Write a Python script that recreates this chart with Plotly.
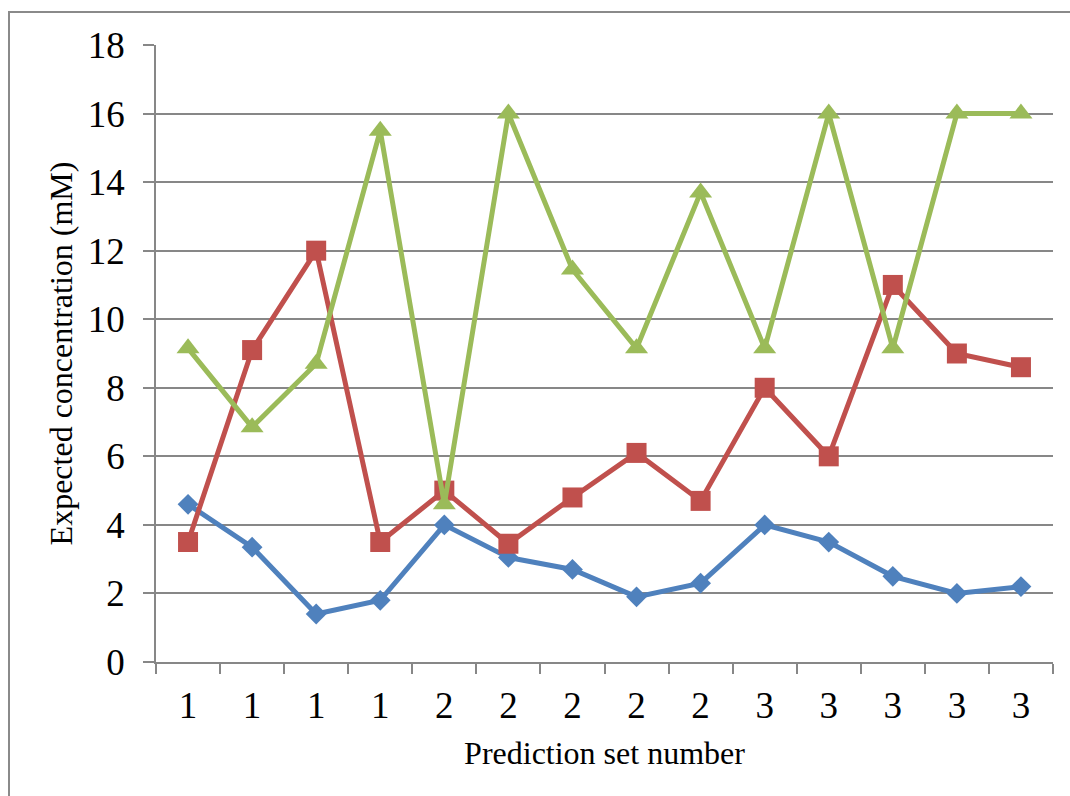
import plotly.graph_objects as go

# Prediction sets (category labels along the x axis)
set_labels = ["1", "1", "1", "1", "2", "2", "2", "2", "2", "3", "3", "3", "3", "3"]

# Expected concentrations (mM) for the three series
blue_values = [4.6, 3.35, 1.4, 1.8, 4.0, 3.05, 2.7, 1.9, 2.3, 4.0, 3.5, 2.5, 2.0, 2.2]
red_values = [3.5, 9.1, 12.0, 3.5, 5.0, 3.45, 4.8, 6.1, 4.7, 8.0, 6.0, 11.0, 9.0, 8.6]
green_values = [9.15, 6.85, 8.7, 15.5, 4.6, 16.0, 11.45, 9.15, 13.7, 9.15, 16.0, 9.15, 16.0, 16.0]

y_ticks = [0, 2, 4, 6, 8, 10, 12, 14, 16, 18]

x_pos = list(range(len(set_labels)))
grid_color = "#878787"
font_family = "Liberation Serif"

fig = go.Figure()

series = [
    (blue_values, "#4F81BD", "diamond", 16),
    (red_values, "#C0504D", "square", 20),
    (green_values, "#9BBB59", "triangle-up", 20),
]
for values, color, symbol, size in series:
    fig.add_trace(go.Scatter(
        x=x_pos, y=values, mode="lines+markers",
        line=dict(color=color, width=5),
        marker=dict(symbol=symbol, size=size, color=color, line=dict(width=0)),
        showlegend=False, hoverinfo="skip",
    ))

fig.update_layout(
    width=1070, height=796,
    margin=dict(l=156, r=17, t=45, b=134),
    paper_bgcolor="white", plot_bgcolor="white",
    font=dict(family=font_family, color="black"),
    xaxis=dict(
        range=[-0.5, len(set_labels) - 0.5],
        tickmode="array", tickvals=x_pos, ticktext=set_labels,
        ticks="", showgrid=False, zeroline=False,
        showline=True, linecolor=grid_color, linewidth=1.5,
        tickfont=dict(size=37, family=font_family),
        ticklabelstandoff=10,
        minor=dict(
            tickmode="array",
            tickvals=[i - 0.5 for i in range(len(set_labels) + 1)],
            ticks="outside", ticklen=10, tickcolor=grid_color, tickwidth=1.5,
            showgrid=False,
        ),
        title=dict(text="Prediction set number", font=dict(size=32, family=font_family), standoff=16),
    ),
    yaxis=dict(
        range=[0, 18],
        tickmode="array", tickvals=y_ticks,
        ticks="outside", ticklen=11, tickcolor=grid_color, tickwidth=1.5,
        showgrid=True, gridcolor=grid_color, gridwidth=1.5,
        zeroline=False,
        showline=True, linecolor=grid_color, linewidth=1.5,
        tickfont=dict(size=37, family=font_family),
        ticklabelstandoff=11,
        title=dict(text="Expected concentration (mM)", font=dict(size=32, family=font_family), standoff=6),
    ),
)

# Chart-area border (left and top edges)
fig.add_shape(
    type="rect", xref="paper", yref="paper",
    x0=(9 - 156) / 897, x1=1.2, y0=-0.5, y1=(662 - 12) / 617,
    line=dict(color="#8a8a8a", width=2), fillcolor="rgba(0,0,0,0)", layer="below",
)

fig.write_html("out.html")
